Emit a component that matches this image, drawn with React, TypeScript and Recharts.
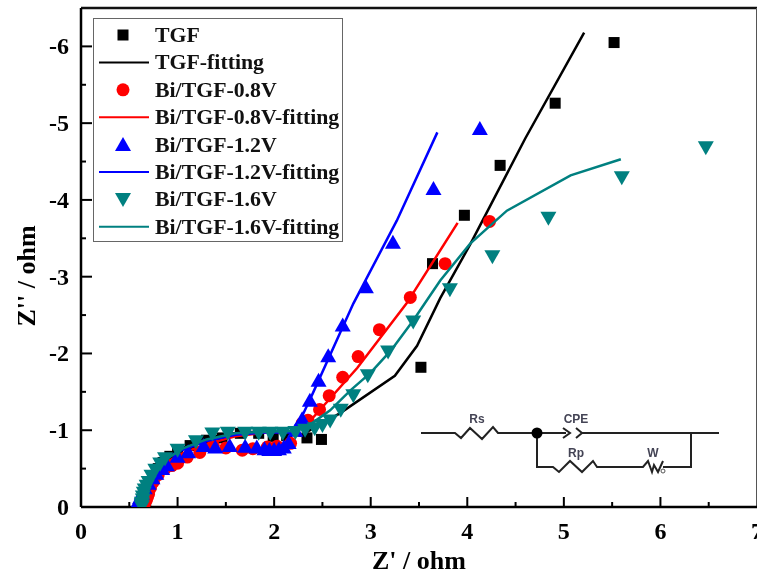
import React from "react";
import { ScatterChart, Scatter, XAxis, YAxis, Legend, ReferenceLine } from "recharts";

type P = { x: number; y: number };
const pts = (a: number[][]): P[] => a.map(([x, y]) => ({ x, y: -y }));

const tgfData = pts([[0.66,0.03],[0.67,0.08],[0.68,0.15],[0.7,0.22],[0.72,0.3],[0.75,0.4],[0.8,0.5],[0.85,0.58],[0.92,0.66],[1.0,0.72],[1.13,0.8],[1.3,0.87],[1.46,0.9],[1.65,0.96],[1.84,0.96],[1.99,0.92],[2.13,0.93],[2.34,0.9],[2.49,0.88],[3.52,1.82],[3.64,3.17],[3.97,3.8],[4.34,4.45],[4.91,5.26],[5.52,6.05]]);
const tgfFit = pts([[0.65,0.03],[0.68,0.18],[0.75,0.38],[0.85,0.58],[1.0,0.73],[1.2,0.86],[1.5,0.95],[1.8,0.98],[2.1,0.98],[2.27,0.93],[2.68,1.22],[3.25,1.71],[3.48,2.1],[3.72,2.72],[4.03,3.42],[4.6,4.8],[5.21,6.18]]);
const redData = pts([[0.65,0.02],[0.66,0.05],[0.67,0.08],[0.68,0.1],[0.69,0.14],[0.7,0.17],[0.72,0.25],[0.75,0.33],[0.8,0.42],[0.87,0.5],[0.94,0.54],[1.0,0.57],[1.1,0.65],[1.23,0.71],[1.37,0.8],[1.5,0.77],[1.67,0.74],[1.78,0.76],[1.93,0.78],[2.03,0.79],[2.17,0.83],[2.29,1.09],[2.35,1.13],[2.47,1.27],[2.57,1.45],[2.71,1.69],[2.87,1.96],[3.09,2.31],[3.41,2.73],[3.77,3.17],[4.23,3.72]]);
const redFit = pts([[0.6,0.02],[0.65,0.2],[0.75,0.42],[0.88,0.58],[1.05,0.7],[1.3,0.82],[1.6,0.92],[1.9,0.97],[2.2,0.98],[2.35,1.09],[2.86,1.81],[3.37,2.65],[3.9,3.7]]);
const blueData = pts([[0.57,0.02],[0.59,0.05],[0.61,0.12],[0.63,0.18],[0.66,0.25],[0.7,0.31],[0.74,0.38],[0.78,0.44],[0.84,0.5],[0.89,0.55],[1.0,0.66],[1.11,0.72],[1.27,0.8],[1.39,0.78],[1.54,0.8],[1.7,0.79],[1.82,0.78],[1.9,0.76],[1.95,0.75],[2.0,0.75],[2.05,0.76],[2.1,0.78],[2.15,0.84],[2.22,1.0],[2.29,1.15],[2.37,1.39],[2.46,1.65],[2.56,1.97],[2.71,2.37],[2.95,2.87],[3.23,3.45],[3.65,4.15],[4.13,4.93]]);
const blueFit = pts([[0.58,0.02],[0.63,0.2],[0.72,0.42],[0.85,0.6],[1.0,0.72],[1.3,0.86],[1.6,0.94],[1.9,0.97],[2.19,0.97],[2.27,1.13],[2.4,1.48],[2.82,2.65],[3.27,3.73],[3.69,4.88]]);
const tealData = pts([[0.63,0.0],[0.63,0.03],[0.63,0.05],[0.64,0.09],[0.64,0.13],[0.65,0.18],[0.66,0.22],[0.68,0.27],[0.7,0.32],[0.73,0.4],[0.77,0.48],[0.82,0.56],[0.87,0.63],[1.0,0.74],[1.19,0.85],[1.36,0.95],[1.52,0.96],[1.7,0.96],[1.84,0.96],[1.96,0.96],[2.09,0.96],[2.22,0.97],[2.32,1.0],[2.42,1.02],[2.5,1.06],[2.58,1.12],[2.69,1.26],[2.82,1.45],[2.97,1.71],[3.18,2.02],[3.44,2.41],[3.82,2.83],[4.26,3.26],[4.84,3.76],[5.6,4.29],[6.47,4.68]]);
const tealFit = pts([[0.63,0.02],[0.67,0.2],[0.75,0.42],[0.88,0.62],[1.05,0.76],[1.3,0.88],[1.6,0.96],[1.9,0.98],[2.2,0.99],[2.39,1.09],[2.58,1.26],[2.79,1.52],[3.0,1.75],[3.21,2.04],[3.44,2.43],[3.72,2.95],[4.03,3.43],[4.41,3.86],[5.07,4.32],[5.59,4.53]]);

const seriesNames = ["TGF","TGF-fitting","Bi/TGF-0.8V","Bi/TGF-0.8V-fitting","Bi/TGF-1.2V","Bi/TGF-1.2V-fitting","Bi/TGF-1.6V","Bi/TGF-1.6V-fitting"];
const colors = ["#000000", "#ff0000", "#0000ff", "#008080"];
const kinds = ["square", "circle", "up", "down"];
const xTicks = [0,0.5,1,1.5,2,2.5,3,3.5,4,4.5,5,5.5,6,6.5,7];
const yTicks = [0,-0.5,-1,-1.5,-2,-2.5,-3,-3.5,-4,-4.5,-5,-5.5,-6];

const FONT = "'Liberation Serif', 'Times New Roman', serif";
const W = 757, H = 575, LEFT = 81, BOTTOM = 507, TOP = 8;

function Glyph({ cx, cy, kind, color }: { cx: number; cy: number; kind: string; color: string }) {
  if (kind === "square") return <rect x={cx - 5.5} y={cy - 5.5} width={11} height={11} fill={color} />;
  if (kind === "circle") return <circle cx={cx} cy={cy} r={6.5} fill={color} />;
  if (kind === "up") return <path d={`M${cx} ${cy - 7.5}L${cx + 8} ${cy + 6.5}L${cx - 8} ${cy + 6.5}Z`} fill={color} />;
  return <path d={`M${cx} ${cy + 7.5}L${cx + 8} ${cy - 6.5}L${cx - 8} ${cy - 6.5}Z`} fill={color} />;
}
const marker = (i: number) => (p: any) => <Glyph cx={p.cx} cy={p.cy} kind={kinds[i]} color={colors[i]} />;
const noMarker = () => <g />;

function XTick(p: any) {
  const v = p.payload.value, c = p.payload.coordinate, major = Number.isInteger(v);
  return (
    <g>
      {v < 7 && v > 0 && <line x1={c} x2={c} y1={BOTTOM} y2={BOTTOM - (major ? 10 : 5)} stroke="#000" strokeWidth={2} />}
      {major && <text x={c} y={539} textAnchor="middle" fontFamily={FONT} fontWeight="bold" fontSize={24} fill="#000">{v}</text>}
    </g>
  );
}
function YTick(p: any) {
  const v = p.payload.value, c = p.payload.coordinate, major = Number.isInteger(v);
  return (
    <g>
      {v < 0 && <line x1={LEFT} x2={LEFT + (major ? 11 : 5)} y1={c} y2={c} stroke="#000" strokeWidth={2} />}
      {major && <text x={69} y={c + 8} textAnchor="end" fontFamily={FONT} fontWeight="bold" fontSize={24} fill="#000">{v}</text>}
    </g>
  );
}

function LegendBox() {
  return (
    <div style={{ width: 250, height: 224, boxSizing: "border-box", border: "1.5px solid #666", background: "#fff", position: "relative" }}>
      <svg width={248} height={221} style={{ position: "absolute", left: 0, top: 0 }}>
        {seriesNames.map((n, i) => {
          const y = 16 + i * 27.4;
          const c = Math.floor(i / 2);
          return (
            <g key={n}>
              {i % 2 === 0
                ? <Glyph cx={29} cy={y} kind={kinds[c]} color={colors[c]} />
                : <line x1={5} x2={55} y1={y} y2={y} stroke={colors[c]} strokeWidth={2} />}
              <text x={61} y={y + 7} fontFamily={FONT} fontWeight="bold" fontSize={21.8} fill="#111">{n}</text>
            </g>
          );
        })}
      </svg>
    </div>
  );
}

function Circuit() {
  const s = { fill: "none", stroke: "#222", strokeWidth: 2 };
  const t = { fontFamily: "'Liberation Sans', sans-serif", fontSize: 12, fontWeight: 600, fill: "#445", textAnchor: "middle" as const };
  return (
    <svg width={W} height={H} style={{ position: "absolute", left: 0, top: 0, pointerEvents: "none" }}>
      <path {...s} d="M421 433H455L461 438L470 428L482 439L493 427L498 433H537H566M563 428L570 433L563 438M576 428L582 433L576 438M582 433H719" />
      <path {...s} d="M537 433V467H553L559 472L570 461L582 472L593 461L597 467H643L648 461L652 472L654 465L658 472L663 461M663 467H691V433" />
      <circle cx={537} cy={433} r={5.5} fill="#000" />
      <circle cx={663} cy={471} r={2} fill="#fff" stroke="#555" strokeWidth={1} />
      <text {...t} x={477} y={423}>Rs</text>
      <text {...t} x={576} y={423}>CPE</text>
      <text {...t} x={576} y={457}>Rp</text>
      <text {...t} x={653} y={457}>W</text>
    </svg>
  );
}

export default function App() {
  return (
    <div style={{ position: "absolute", left: 0, top: 0, width: W, height: H, overflow: "hidden", background: "#fff", filter: "blur(0.5px)" }}>
      <ScatterChart width={W} height={H} margin={{ top: TOP, right: 0, bottom: 0, left: 0 }}>
        <XAxis type="number" dataKey="x" domain={[0, 7]} ticks={xTicks} interval={0} height={H - BOTTOM}
          axisLine={{ stroke: "#000", strokeWidth: 2.5 }} tickLine={false} tick={XTick} allowDataOverflow />
        <YAxis type="number" dataKey="y" domain={[-6.5, 0]} reversed ticks={yTicks} interval={0} width={LEFT}
          axisLine={{ stroke: "#000", strokeWidth: 2.5 }} tickLine={false} tick={YTick} allowDataOverflow />
        <ReferenceLine y={-6.5} stroke="#111" strokeWidth={2.5} />
        <ReferenceLine x={7} stroke="#555" strokeWidth={2} />
        <Scatter name={seriesNames[0]} data={tgfData} shape={marker(0)} isAnimationActive={false} />
        <Scatter name={seriesNames[1]} data={tgfFit} shape={noMarker} line={{ stroke: colors[0], strokeWidth: 2.5 }} isAnimationActive={false} />
        <Scatter name={seriesNames[2]} data={redData} shape={marker(1)} isAnimationActive={false} />
        <Scatter name={seriesNames[3]} data={redFit} shape={noMarker} line={{ stroke: colors[1], strokeWidth: 2.5 }} isAnimationActive={false} />
        <Scatter name={seriesNames[4]} data={blueData} shape={marker(2)} isAnimationActive={false} />
        <Scatter name={seriesNames[5]} data={blueFit} shape={noMarker} line={{ stroke: colors[2], strokeWidth: 2.5 }} isAnimationActive={false} />
        <Scatter name={seriesNames[6]} data={tealData} shape={marker(3)} isAnimationActive={false} />
        <Scatter name={seriesNames[7]} data={tealFit} shape={noMarker} line={{ stroke: colors[3], strokeWidth: 2.5 }} isAnimationActive={false} />
        <Legend layout="vertical" align="center" verticalAlign="middle" content={() => <LegendBox />}
          wrapperStyle={{ position: "absolute", left: 93, top: 18, width: 250, height: 224 }} />
      </ScatterChart>
      <Circuit />
      <div style={{ position: "absolute", left: 0, top: 0, pointerEvents: "none" }}>
        <svg width={W} height={H}>
          <text x={419} y={569} textAnchor="middle" fontFamily={FONT} fontWeight="bold" fontSize={26} fill="#000">Z' / ohm</text>
          <text x={0} y={0} transform="translate(35 276) rotate(-90)" textAnchor="middle" fontFamily={FONT} fontWeight="bold" fontSize={26} fill="#000">Z'' / ohm</text>
        </svg>
      </div>
    </div>
  );
}
